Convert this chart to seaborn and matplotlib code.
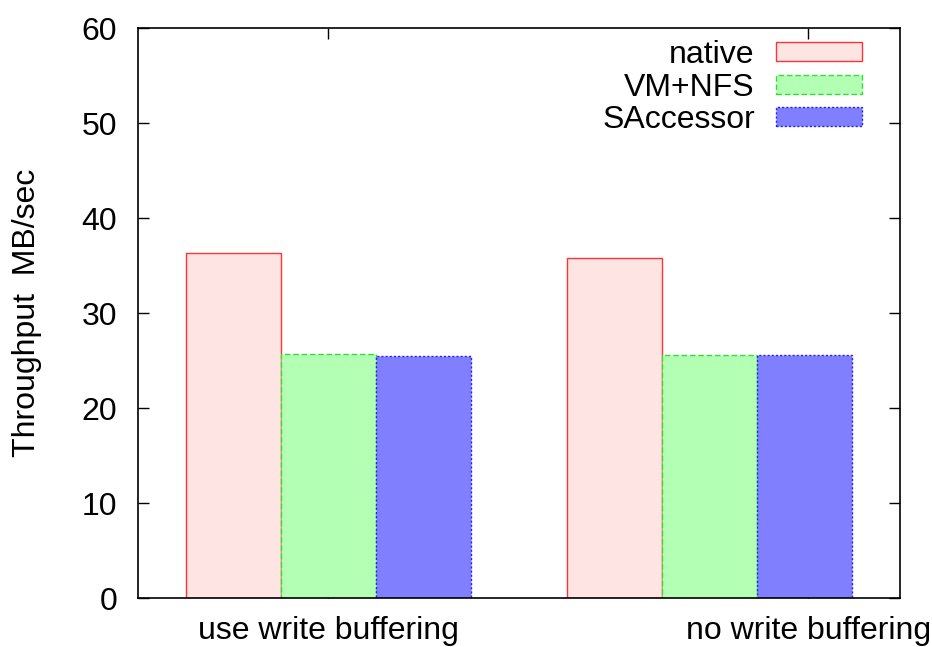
import pandas as pd
import seaborn as sns
import matplotlib.pyplot as plt

# values
groups = ["use write buffering", "no write buffering"]
series = ["native", "VM+NFS", "SAccessor"]
native = [36.3, 35.8]
vm_nfs = [25.7, 25.6]
saccessor = [25.5, 25.6]

fills = ["#ffe4e4", "#b3ffb3", "#8080ff"]
edges = ["#ff3333", "#33dd33", "#2222ee"]
styles = ["-", (0, (4, 2)), (0, (1.5, 1.5))]

rows = []
for name, vals in zip(series, [native, vm_nfs, saccessor]):
    for g, v in zip(groups, vals):
        rows.append({"group": g, "series": name, "value": v})
df = pd.DataFrame(rows)

sns.set_style("ticks")
plt.rcParams["font.family"] = ["Liberation Sans", "DejaVu Sans"]
plt.rcParams["text.color"] = "black"
plt.rcParams["axes.labelcolor"] = "black"
plt.rcParams["xtick.color"] = "black"
plt.rcParams["ytick.color"] = "black"
plt.rcParams["axes.edgecolor"] = "black"

fs = 23

fig = plt.figure(figsize=(9.32, 6.47), dpi=100)
ax = fig.add_axes([0.148, 0.0757, 0.8176, 0.881])

sns.barplot(data=df, x="group", y="value", hue="series", order=groups,
            hue_order=series, palette=fills, saturation=1, width=0.75,
            gap=0, errorbar=None, ax=ax)

for cont, ec, ls in zip(ax.containers, edges, styles):
    for p in cont:
        p.set_edgecolor(ec)
        p.set_linestyle(ls)
        p.set_linewidth(1.0)

ax.set_xlim(-0.5, 1.5)
ax.set_ylim(0, 60)
ax.set_yticks(range(0, 61, 10))
ax.set_xticks([0, 1.26], groups)
ax.tick_params(axis="both", direction="in", length=8, width=1,
               labelsize=fs, pad=15, top=True, right=True)
ax.tick_params(axis="x", pad=13)
for s in ax.spines.values():
    s.set_linewidth(1.2)
    s.set_visible(True)

ax.set_xlabel("")
ax.set_ylabel("Throughput  MB/sec", fontsize=fs)
ax.yaxis.set_label_coords(-0.126, 0.5)

handles, labels = ax.get_legend_handles_labels()
for h, ec, ls in zip(handles, edges, styles):
    h.set_edgecolor(ec)
    h.set_linestyle(ls)
    h.set_linewidth(1.0)
ax.legend(handles, labels, loc="upper right", bbox_to_anchor=(0.950, 0.979),
          frameon=False, markerfirst=False, fontsize=fs, handlelength=2.7,
          handleheight=0.52, handletextpad=0.65, labelspacing=0.08,
          borderpad=0, borderaxespad=0)

fig.savefig("out.png", dpi=100)
